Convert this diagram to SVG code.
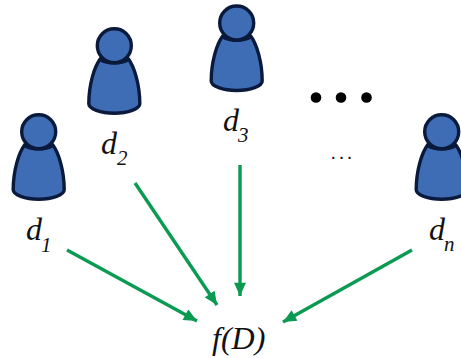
<svg xmlns="http://www.w3.org/2000/svg" width="461" height="358" viewBox="0 0 461 358">
<style>
.body{fill:#3f6db5;stroke:#0a1a3c;stroke-width:3.4;stroke-linejoin:round}
.t{font-family:"Liberation Serif","Times New Roman",serif;font-style:italic;fill:#111}
.d{font-size:32px}
.s{font-size:21px}
.c{fill:none;stroke:#0b9a52;stroke-width:3.4;marker-end:url(#a)}
</style>
<defs>
<marker id="a" markerUnits="userSpaceOnUse" markerWidth="14" markerHeight="12" refX="11" refY="5" orient="auto" viewBox="0 0 11 10"><path d="M0 0L11 5L0 10Z" fill="#0b9a52"/></marker>
<g id="p">
<path class="body" d="M-14 13C-20 21-25.500 39-25.500 58C-25.500 63-14 67.500 0 67.500C14 67.500 25.500 63 25.500 58C25.500 39 20 21 14 13C8 18-8 18-14 13Z"/>
<circle class="body" r="17"/>
<path d="M-13.500 12C-8 17.500 8 17.500 13.500 12L14.500 15.500C8 20-8 20-14.500 15.500Z" fill="#0a1a3c"/>
</g>
</defs>
<rect width="461" height="358" fill="#fff"/>
<g id="connectors">
<path class="c" d="M67 250L197 321"/>
<path class="c" d="M135 183L217 305"/>
<path class="c" d="M240 165L240 296"/>
<path class="c" d="M412 250L283 322"/>
</g>
<g id="d1"><use href="#p" x="38.700" y="131.700"/><text class="t d" x="26" y="240">d</text><text class="t s" x="41" y="252">1</text></g>
<g id="d2"><use href="#p" x="114.300" y="45.700"/><text class="t d" x="101" y="154">d</text><text class="t s" x="117" y="165">2</text></g>
<g id="d3"><use href="#p" x="236.700" y="23"/><text class="t d" x="223" y="131">d</text><text class="t s" x="238" y="142">3</text></g>
<g id="dn"><use href="#p" x="441.700" y="131.700"/><text class="t d" x="429" y="240">d</text><text class="t s" x="444" y="251">n</text></g>
<g id="dots"><circle cx="316" cy="97.500" r="5.300" fill="#000"/><circle cx="341" cy="97.500" r="5.300" fill="#000"/><circle cx="366.500" cy="97.500" r="5.300" fill="#000"/></g>
<g id="ellipsis"><text x="330.500" y="158.500" font-family="'Liberation Sans',Arial,sans-serif" font-size="20" letter-spacing="2.600" fill="#111">...</text></g>
<g id="fD"><text class="t" x="212" y="349" font-size="32">f(D)</text></g>
</svg>
